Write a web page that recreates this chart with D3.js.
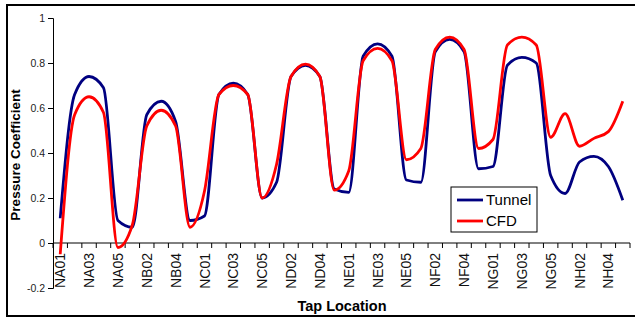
<!DOCTYPE html>
<html>
<head>
<meta charset="utf-8">
<script src="https://cdn.jsdelivr.net/npm/d3@7"></script>
<style>
  body { margin: 0; background: #fff; }
  text { font-family: Arial, "Liberation Sans", sans-serif; }
</style>
</head>
<body>
<script>
var taps = [
  "NA01","NA02","NA03","NA04","NA05",
  "NB01","NB02","NB03","NB04","NB05",
  "NC01","NC02","NC03","NC04","NC05",
  "ND01","ND02","ND03","ND04","ND05",
  "NE01","NE02","NE03","NE04","NE05",
  "NF01","NF02","NF03","NF04","NF05",
  "NG01","NG02","NG03","NG04","NG05",
  "NH01","NH02","NH03","NH04","NH05"
];
var tunnel = [0.11, 0.66, 0.74, 0.69, 0.10, 0.07, 0.57, 0.63, 0.54, 0.10,
              0.12, 0.66, 0.71, 0.66, 0.20, 0.27, 0.74, 0.79, 0.74, 0.24,
              0.225, 0.83, 0.885, 0.83, 0.28, 0.27, 0.85, 0.905, 0.85, 0.33,
              0.34, 0.79, 0.825, 0.80, 0.30, 0.22, 0.36, 0.385, 0.34, 0.19];
var cfd = [-0.05, 0.57, 0.65, 0.58, -0.02, 0.08, 0.52, 0.59, 0.52, 0.07,
           0.23, 0.66, 0.70, 0.66, 0.20, 0.35, 0.74, 0.795, 0.74, 0.235,
           0.32, 0.81, 0.865, 0.81, 0.37, 0.42, 0.86, 0.915, 0.86, 0.42,
           0.46, 0.88, 0.915, 0.88, 0.47, 0.575, 0.43, 0.465, 0.495, 0.63];
var yTicks = [-0.2, 0, 0.2, 0.4, 0.6, 0.8, 1];
var seriesNames = ["Tunnel", "CFD"];
var seriesColors = ["#000080", "#ff0000"];

var width = 635, height = 320;
var plotLeft = 53, plotRight = 630, plotTop = 18, plotBottom = 288;

var svg = d3.select("body").append("svg")
    .attr("width", width)
    .attr("height", height);

// outer frame
svg.append("rect")
    .attr("x", 7).attr("y", 5)
    .attr("width", 640).attr("height", 311)
    .attr("fill", "none")
    .attr("stroke", "#000")
    .attr("stroke-width", 2);

var x = d3.scaleBand().domain(taps).range([plotLeft, plotRight]);
var y = d3.scaleLinear().domain([-0.2, 1]).range([plotBottom, plotTop]);

// y axis
var yAxis = d3.axisLeft(y)
    .tickValues(yTicks)
    .tickSize(5)
    .tickFormat(function(d) { return String(+d.toFixed(1)); });

var gy = svg.append("g")
    .attr("transform", "translate(" + plotLeft + ",0)")
    .call(yAxis);
gy.select(".domain").attr("stroke", "#000");
gy.selectAll(".tick line").attr("stroke", "#000");
gy.selectAll(".tick text")
    .attr("font-size", "10.5px")
    .attr("fill", "#222")
    .attr("x", -8);

// x axis at y = 0
var gx = svg.append("g")
    .attr("transform", "translate(0," + y(0) + ")");
gx.append("line")
    .attr("x1", plotLeft).attr("x2", plotRight)
    .attr("stroke", "#000");
var bounds = taps.map(function(d) { return x(d); }).concat([plotRight]);
gx.selectAll(".tk")
    .data(bounds)
  .enter().append("line")
    .attr("x1", function(d) { return d; })
    .attr("x2", function(d) { return d; })
    .attr("y1", 0).attr("y2", 5)
    .attr("stroke", "#000");
gx.selectAll(".lbl")
    .data(taps.filter(function(d, i) { return i % 2 == 0; }))
  .enter().append("text")
    .attr("transform", function(d) {
      return "translate(" + (x(d) + x.bandwidth() / 2) + ",10) rotate(-90)";
    })
    .attr("text-anchor", "end")
    .attr("dy", "0.36em")
    .attr("font-size", "14px")
    .attr("fill", "#111")
    .text(function(d) { return d; });

// lines
var line = d3.line()
    .x(function(d, i) { return x(taps[i]) + x.bandwidth() / 2; })
    .y(function(d) { return y(d); })
    .curve(d3.curveMonotoneX);

[tunnel, cfd].forEach(function(s, k) {
  svg.append("path")
      .datum(s)
      .attr("d", line)
      .attr("fill", "none")
      .attr("stroke", seriesColors[k])
      .attr("stroke-width", 2.8)
      .attr("stroke-linejoin", "round");
});

// axis titles
svg.append("text")
    .attr("transform", "translate(20,155) rotate(-90)")
    .attr("text-anchor", "middle")
    .attr("font-size", "13.5px")
    .attr("font-weight", "bold")
    .text("Pressure Coefficient");

svg.append("text")
    .attr("x", 342).attr("y", 311)
    .attr("text-anchor", "middle")
    .attr("font-size", "14.5px")
    .attr("font-weight", "bold")
    .text("Tap Location");

// legend
var legend = svg.append("g").attr("transform", "translate(451,187)");
legend.append("rect")
    .attr("width", 86).attr("height", 45)
    .attr("fill", "#fff")
    .attr("stroke", "#000");
seriesNames.forEach(function(n, i) {
  legend.append("line")
      .attr("x1", 6).attr("x2", 32)
      .attr("y1", 13 + i * 21).attr("y2", 13 + i * 21)
      .attr("stroke", seriesColors[i])
      .attr("stroke-width", 2.8);
  legend.append("text")
      .attr("x", 35).attr("y", 13 + i * 21)
      .attr("dy", "0.36em")
      .attr("font-size", "15px")
      .text(n);
});
</script>
</body>
</html>
